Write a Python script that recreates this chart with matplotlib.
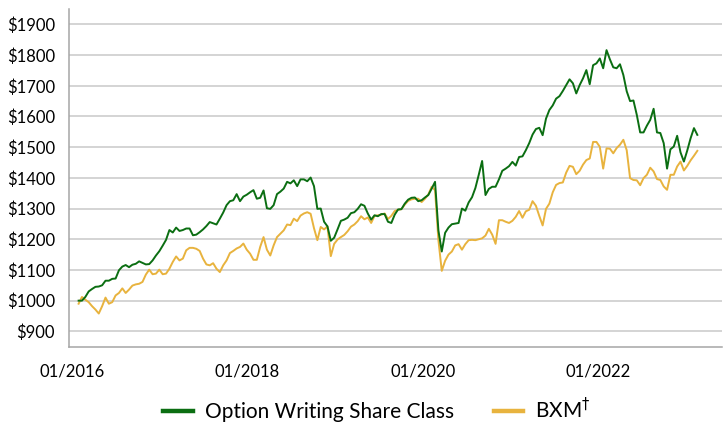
import numpy as np
import pandas as pd
import matplotlib
matplotlib.use('Agg')
import matplotlib.pyplot as plt
import matplotlib.dates as mdates

# growth of $1000, every two weeks
option_writing = [
    1000, 1000, 1012, 1030, 1038, 1045, 1046, 1050, 1065, 1065,
    1071, 1072, 1099, 1111, 1116, 1109, 1117, 1120, 1128, 1123,
    1118, 1119, 1131, 1147, 1161, 1179, 1198, 1230, 1222, 1238,
    1227, 1230, 1235, 1235, 1213, 1215, 1223, 1232, 1243, 1256,
    1252, 1248, 1267, 1287, 1311, 1324, 1327, 1347, 1324, 1339,
    1345, 1353, 1360, 1332, 1335, 1359, 1301, 1299, 1311, 1347,
    1355, 1365, 1387, 1382, 1392, 1373, 1395, 1395, 1389, 1401,
    1373, 1299, 1300, 1257, 1242, 1195, 1205, 1232, 1260, 1264,
    1270, 1285, 1288, 1299, 1314, 1309, 1284, 1264, 1278, 1275,
    1282, 1282, 1257, 1253, 1280, 1297, 1298, 1316, 1329, 1335,
    1336, 1324, 1327, 1336, 1344, 1365, 1387, 1229, 1160, 1221,
    1238, 1249, 1251, 1253, 1300, 1293, 1320, 1337, 1367, 1410,
    1455, 1344, 1364, 1371, 1371, 1395, 1423, 1430, 1438, 1452,
    1440, 1468, 1470, 1490, 1513, 1541, 1559, 1563, 1539, 1593,
    1621, 1636, 1658, 1666, 1683, 1702, 1721, 1708, 1675, 1702,
    1724, 1751, 1705, 1767, 1773, 1789, 1757, 1816, 1786, 1760,
    1757, 1770, 1735, 1682, 1650, 1652, 1605, 1548, 1548, 1570,
    1589, 1625, 1548, 1546, 1513, 1430, 1493, 1502, 1537, 1483,
    1453, 1489, 1529, 1562, 1540,
]

bxm = [
    990, 1012, 1003, 995, 982, 971, 958, 982, 1010, 990,
    995, 1017, 1025, 1040, 1025, 1036, 1049, 1053, 1055, 1061,
    1085, 1101, 1086, 1088, 1101, 1086, 1088, 1104, 1126, 1144,
    1131, 1137, 1164, 1172, 1172, 1169, 1162, 1137, 1118, 1115,
    1122, 1104, 1093, 1115, 1131, 1155, 1162, 1170, 1175, 1186,
    1166, 1153, 1133, 1133, 1175, 1207, 1166, 1147, 1180, 1207,
    1218, 1229, 1248, 1246, 1267, 1259, 1277, 1284, 1288, 1283,
    1236, 1197, 1240, 1232, 1242, 1145, 1185, 1199, 1207, 1214,
    1226, 1241, 1248, 1259, 1275, 1265, 1271, 1253, 1276, 1278,
    1280, 1284, 1266, 1276, 1292, 1296, 1298, 1313, 1325, 1330,
    1332, 1332, 1321, 1332, 1346, 1371, 1360, 1197, 1097, 1130,
    1150, 1160, 1180, 1184, 1166, 1184, 1197, 1198, 1197, 1200,
    1203, 1212, 1234, 1215, 1185, 1262, 1262, 1257, 1253, 1260,
    1273, 1292, 1270, 1291, 1296, 1324, 1309, 1276, 1245, 1299,
    1316, 1353, 1377, 1383, 1385, 1417, 1439, 1436, 1412, 1423,
    1443, 1458, 1463, 1517, 1517, 1501, 1430, 1496, 1495, 1480,
    1497, 1508, 1524, 1490, 1399, 1393, 1392, 1376, 1399, 1410,
    1433, 1421, 1396, 1393, 1372, 1361, 1410, 1410, 1437, 1453,
    1424, 1439, 1457, 1472, 1488,
]

start_date = '2016-01-29'
x_ticks = ['2016-01-01', '2018-01-01', '2020-01-01', '2022-01-01']
y_ticks = [900, 1000, 1100, 1200, 1300, 1400, 1500, 1600, 1700, 1800, 1900]

green = '#0b6e12'
gold = '#e8b33e'

plt.rcParams['font.family'] = ['Lato', 'DejaVu Sans']

dates = pd.date_range(start_date, periods=len(option_writing), freq='14D')

fig = plt.figure(figsize=(7.24, 4.23), dpi=100)
ax = fig.add_axes([0.0953, 0.1804, 0.9017, 0.7983])

ax.plot(dates, bxm, color=gold, lw=1.4, zorder=3)
ax.plot(dates, option_writing, color=green, lw=1.4, zorder=4)

ax.set_ylim(850, 1950)
ax.set_yticks(y_ticks)
ax.yaxis.set_major_formatter(plt.FuncFormatter(lambda v, p: '$%d' % v))
ax.set_xlim(pd.Timestamp('2015-12-20'), pd.Timestamp('2023-05-30'))
ax.set_xticks(pd.to_datetime(x_ticks))
ax.xaxis.set_major_formatter(mdates.DateFormatter('%m/%Y'))

ax.grid(axis='y', color='#c9c9c9', lw=1.1, zorder=0)
ax.tick_params(length=0, labelsize=12, colors='black')
ax.tick_params(axis='y', pad=10)
ax.tick_params(axis='x', pad=12)
for s in ['top', 'right']:
    ax.spines[s].set_visible(False)
for s in ['left', 'bottom']:
    ax.spines[s].set_color('#a6a6a6')
    ax.spines[s].set_linewidth(1.1)

handles = [plt.Line2D([], [], color=green, lw=3.2),
           plt.Line2D([], [], color=gold, lw=3.2)]
fig.legend(handles, ['Option Writing Share Class', r'BXM$^{\dagger}$'],
           loc='center', bbox_to_anchor=(0.521, 0.031), ncol=2,
           frameon=False, fontsize=15, handlelength=1.4,
           handletextpad=0.6, columnspacing=1.9)

fig.savefig('out.png', dpi=100)
